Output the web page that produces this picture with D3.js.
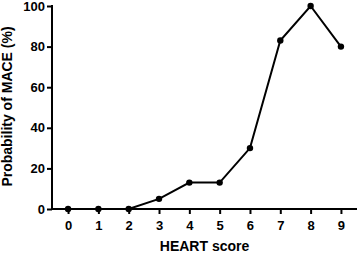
<!DOCTYPE html>
<html>
<head>
<meta charset="utf-8">
<script src="https://cdn.jsdelivr.net/npm/d3@7"></script>
<style>
  body { margin: 0; background: #fff; }
  text { font-family: "Liberation Sans", Arial, sans-serif; }
</style>
</head>
<body>
<div class="chart"></div>
<script>
var svgWidth = 358;
var svgHeight = 253;

// data
var scores = [0, 1, 2, 3, 4, 5, 6, 7, 8, 9];
var probability = [0, 0, 0, 5, 13, 13, 30, 83, 100, 80];
var yTicks = [0, 20, 40, 60, 80, 100];

var margin = { top: 6, right: 1, bottom: 44, left: 52 };
var width = svgWidth - margin.left - margin.right;
var height = svgHeight - margin.top - margin.bottom;

var svg = d3.select(".chart")
  .append("svg")
  .attr("width", svgWidth)
  .attr("height", svgHeight);

var chartGroup = svg.append("g")
  .attr("transform", `translate(${margin.left}, ${margin.top})`);

var xScale = d3.scaleLinear()
  .domain([-0.53, 9.53])
  .range([0, width]);

var yScale = d3.scaleLinear()
  .domain([0, 100])
  .range([height, 0]);

// axes
var bottomAxis = d3.axisBottom(xScale).tickValues(scores).tickSize(5).tickPadding(7);
var leftAxis = d3.axisLeft(yScale).tickValues(yTicks).tickSize(5).tickPadding(2);

var xAxis = chartGroup.append("g")
  .attr("transform", `translate(0, ${height})`)
  .call(bottomAxis);

var yAxis = chartGroup.append("g")
  .call(leftAxis);

[xAxis, yAxis].forEach(function(ax) {
  ax.select(".domain").attr("stroke", "#000").attr("stroke-width", 2);
  ax.selectAll(".tick line").attr("stroke", "#000").attr("stroke-width", 2);
  ax.selectAll(".tick text")
    .attr("fill", "#000")
    .style("font-size", "13px")
    .style("font-weight", "bold");
});

// plain domain lines, no end caps
xAxis.select(".domain").attr("d", `M0,0H${width}`);
yAxis.select(".domain").attr("d", `M0,${height}V-1`);

// line and points
var line = d3.line()
  .x((d, i) => xScale(scores[i]))
  .y(d => yScale(d));

chartGroup.append("path")
  .datum(probability)
  .attr("fill", "none")
  .attr("stroke", "#000")
  .attr("stroke-width", 2)
  .attr("d", line);

chartGroup.selectAll("circle")
  .data(probability)
  .enter()
  .append("circle")
  .attr("cx", (d, i) => xScale(scores[i]))
  .attr("cy", d => yScale(d))
  .attr("r", 3.2)
  .attr("fill", "#000");

// axis labels
svg.append("text")
  .attr("x", margin.left + xScale(4.5))
  .attr("y", 251)
  .attr("text-anchor", "middle")
  .style("font-size", "14px")
  .style("font-weight", "bold")
  .text("HEART score");

svg.append("text")
  .attr("transform", `translate(12, ${margin.top + height / 2 - 1}) rotate(-90)`)
  .attr("text-anchor", "middle")
  .style("font-size", "14px")
  .style("font-weight", "bold")
  .text("Probability of MACE (%)");
</script>
</body>
</html>
